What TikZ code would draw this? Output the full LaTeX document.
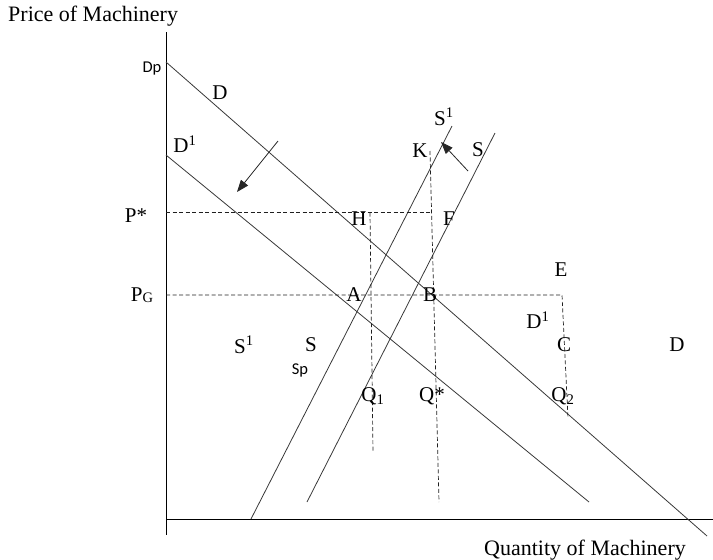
\documentclass[tikz,border=0pt]{standalone}
\usepackage{fontspec}
\setmainfont{Liberation Serif}
\newfontfamily\calibfont{Carlito}
\usetikzlibrary{arrows.meta}
\begin{document}
\begin{tikzpicture}[x=1pt,y=-1pt,
  curve/.style={draw=black!78, line width=0.8pt},
  axisline/.style={draw=black, line width=0.9pt},
  guide/.style={draw=black!88, line width=0.7pt, dash pattern=on 4pt off 2.5pt},
  shiftarrow/.style={draw=black!85, line width=0.8pt, -{Triangle[length=12pt,width=9pt]}},
  lbl/.style={inner sep=0pt, font=\fontsize{21}{25}\selectfont},
  sanslbl/.style={inner sep=0pt, font=\calibfont\fontsize{16.5}{19}\selectfont},
  axistitle/.style={inner sep=0pt, font=\fontsize{22}{26}\selectfont, anchor=base west},
]
\useasboundingbox (0,0) rectangle (713,560);

% axes
\coordinate (ytop) at (166,32);
\coordinate (ybot) at (166,535);
\coordinate (xleft) at (166,519);
\coordinate (xright) at (713,519);
\draw[axisline] (ytop) -- (ybot);
\draw[axisline] (xleft) -- (xright);

% demand curves
\coordinate (Dstart) at (166,62);
\coordinate (Dend) at (707,536);
\coordinate (D1start) at (166,155);
\coordinate (D1end) at (589,502);
\draw[curve] (Dstart) -- (Dend);
\draw[curve] (D1start) -- (D1end);

% supply curves
\coordinate (S1bot) at (251,519);
\coordinate (S1top) at (452,126);
\coordinate (Sbot) at (307,502);
\coordinate (Stop) at (495,133);
\draw[curve] (S1bot) -- (S1top);
\draw[curve] (Sbot) -- (Stop);

% guides
\coordinate (Pstar0) at (166,212.7);
\coordinate (Pstar1) at (432,212.7);
\coordinate (PG0) at (166,295);
\coordinate (PG1) at (562,295);
\coordinate (Kt) at (430,151);
\coordinate (Qsb) at (439,502);
\coordinate (Ht) at (370,212.7);
\coordinate (Q1b) at (373,452);
\coordinate (Q2b) at (568,418);
\draw[guide] (Pstar0) -- (Pstar1);
\draw[guide] (PG0) -- (PG1) -- (Q2b);
\draw[guide] (Kt) -- (Qsb);
\draw[guide] (Ht) -- (Q1b);

% shift arrows
\coordinate (da0) at (278,141);
\coordinate (da1) at (237,192);
\coordinate (sa0) at (468,171);
\coordinate (sa1) at (441,142);
\draw[shiftarrow] (da0) -- (da1);
\draw[shiftarrow] (sa0) -- (sa1);

% axis titles
\node[axistitle] (ytitle) at (8,21) {Price of Machinery};
\node[axistitle] (xtitle) at (484,555) {Quantity of Machinery};

% labels
\node[sanslbl] (lDp) at (152,69) {Dp};
\node[lbl] (lD) at (220,93) {D};
\node[lbl] (lD1) at (185,144) {D\textsuperscript{1}};
\node[lbl] (lPstar) at (136,216) {P*};
\node[lbl] (lPG) at (142,295) {P\raisebox{-0.5pt}{\fontsize{14.5}{14.5}\selectfont G}};
\node[lbl] (lH) at (359,219) {H};
\node[lbl] (lF) at (449,219) {F};
\node[lbl] (lA) at (354,295) {A};
\node[lbl] (lB) at (430,295) {B};
\node[lbl] (lK) at (420,151) {K};
\node[lbl] (lS1t) at (444,117) {S\textsuperscript{1}};
\node[lbl] (lSt) at (478,150) {S};
\node[lbl] (lE) at (561,270) {E};
\node[lbl] (lD1r) at (538,320) {D\textsuperscript{1}};
\node[lbl] (lC) at (564,345) {C};
\node[lbl] (lDr) at (677,345) {D};
\node[lbl] (lS1l) at (244,345) {S\textsuperscript{1}};
\node[lbl] (lSl) at (311,345) {S};
\node[sanslbl] (lSp) at (300,370) {Sp};
\node[lbl] (lQ1) at (373,396) {Q\textsubscript{1}};
\node[lbl] (lQs) at (432,396) {Q*};
\node[lbl] (lQ2) at (563,396) {Q\textsubscript{2}};
\end{tikzpicture}
\end{document}
